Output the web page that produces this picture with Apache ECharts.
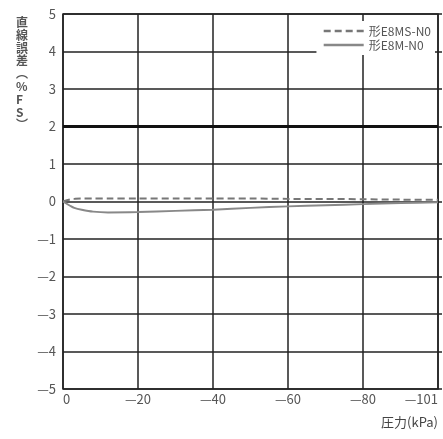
<!DOCTYPE html>
<html><head><meta charset="utf-8">
<script src="https://cdn.jsdelivr.net/npm/echarts@6/dist/echarts.min.js"></script>
<style>html,body{margin:0;padding:0;background:#fff}#c{width:443px;height:439px}</style>
</head><body><div id="c"></div>
<script>
// Data
var pressure = [0, -2, -3, -5, -8, -12, -20, -30, -40, -50, -60, -70, -80, -90, -100];
var e8msValues = [0, 0.06, 0.07, 0.08, 0.08, 0.08, 0.08, 0.08, 0.08, 0.08, 0.07, 0.07, 0.06, 0.05, 0.05];
var e8mValues = [0, -0.12, -0.17, -0.22, -0.27, -0.29, -0.28, -0.25, -0.22, -0.17, -0.13, -0.1, -0.07, -0.04, -0.02];
var seriesNames = ['形E8MS-N0', '形E8M-N0'];
var xTickValues = [0, -20, -40, -60, -80, -100];
var xTickLabels = ['0', '—20', '—40', '—60', '—80', '—101'];
var yTickValues = [5, 4, 3, 2, 1, 0, -1, -2, -3, -4, -5];
var yTickLabels = ['5', '4', '3', '2', '1', '0', '—1', '—2', '—3', '—4', '—5'];
var yAxisTitle = ['直', '線', '誤', '差', '︵', '%', 'F', 'S', '︶'];
var xAxisTitle = '圧力(kPa)';
var refLine = 2;

function pairs(xs, ys) { return xs.map(function (x, i) { return [x, ys[i]]; }); }
function lbl(vals, labels) { return function (v) { var i = vals.indexOf(v); return i >= 0 ? labels[i] : ''; }; }

var font = '"Noto Sans CJK JP", "Noto Sans", sans-serif';
var chart = echarts.init(document.getElementById('c'));
chart.setOption({
  animation: false,
  backgroundColor: '#fff',
  textStyle: { fontFamily: font },
  grid: { left: 63, right: 5, top: 14, bottom: 50, show: true, borderColor: '#222', borderWidth: 1.5, backgroundColor: 'transparent' },
  legend: {
    orient: 'vertical', right: 8, top: 21, itemGap: 2, itemWidth: 40, itemHeight: 11,
    backgroundColor: '#fff', padding: [4, 4, 4, 6],
    itemStyle: { opacity: 0 },
    lineStyle: { width: 2.5 },
    textStyle: { fontSize: 12, color: '#555', fontFamily: font },
    data: seriesNames
  },
  xAxis: {
    type: 'value', min: -100, max: 0, interval: 20, inverse: true,
    axisLine: { show: false }, axisTick: { show: false },
    splitLine: { show: true, lineStyle: { color: '#222', width: 1.5 } },
    axisLabel: { formatter: lbl(xTickValues, xTickLabels), color: '#555', fontSize: 13, margin: 4, fontFamily: font, alignMinLabel: 'right', alignMaxLabel: 'left' }
  },
  yAxis: [{
    type: 'value', min: -5, max: 5, interval: 1,
    axisLine: { show: false }, axisTick: { show: false },
    splitLine: { show: true, lineStyle: { color: '#222', width: 1.5 } },
    axisLabel: { formatter: lbl(yTickValues, yTickLabels), color: '#555', fontSize: 13, margin: 7, fontFamily: font }
  }, {
    type: 'value', min: -5, max: 5, interval: 1, position: 'right',
    axisLine: { show: false }, axisTick: { show: true, length: 4, lineStyle: { color: '#222', width: 1.5 } },
    splitLine: { show: false }, axisLabel: { show: false }
  }],
  graphic: [{
    type: 'text', left: 16, top: 16,
    style: { text: yAxisTitle.join('\n'), font: 'bold 12px ' + font, fill: '#555', lineHeight: 12.8, align: 'center' }
  }, {
    type: 'text', right: 5, top: 416,
    style: { text: xAxisTitle, font: '13px ' + font, fill: '#444' }
  }],
  series: [{
    name: seriesNames[0], type: 'line', data: pairs(pressure, e8msValues), symbol: 'none',
    smooth: 0.3, lineStyle: { color: '#777', width: 2, type: [7, 4] }, itemStyle: { color: '#777' },
    markLine: { silent: true, symbol: 'none', label: { show: false }, lineStyle: { color: '#111', width: 3, type: 'solid' }, data: [{ yAxis: refLine }] },
    z: 3
  }, {
    name: seriesNames[1], type: 'line', data: pairs(pressure, e8mValues), symbol: 'none',
    smooth: 0.3, lineStyle: { color: '#888', width: 2 }, itemStyle: { color: '#888' }, z: 3
  }]
});
</script></body></html>
